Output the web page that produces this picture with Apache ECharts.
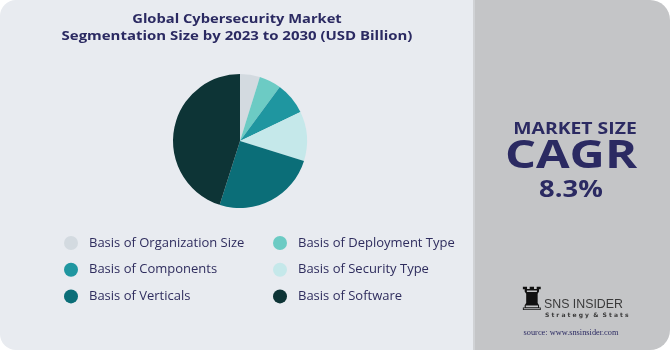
<!DOCTYPE html>
<html><head><meta charset="utf-8">
<script src="https://cdn.jsdelivr.net/npm/echarts@6/dist/echarts.min.js"></script>
<style>html,body{margin:0;padding:0;background:#fff}#c{width:670px;height:350px}</style>
</head><body><div id="c"></div>
<script>
const titleLines = ['Global Cybersecurity Market', 'Segmentation Size by 2023 to 2030 (USD Billion)'];
const categories = ['Basis of Organization Size','Basis of Deployment Type','Basis of Components','Basis of Security Type','Basis of Verticals','Basis of Software'];
const values = [4.8, 5.3, 7.8, 11.9, 25.1, 45.1];
const colors = ['#d3dae0','#6ccbc4','#1f96a0','#c5e8ea','#0b6e78','#0d3436'];
const legendLeft = ['Basis of Organization Size','Basis of Components','Basis of Verticals'];
const legendRight = ['Basis of Deployment Type','Basis of Security Type','Basis of Software'];
const sideTexts = {label:'MARKET SIZE', big:'CAGR', value:'8.3%'};

const navy = '#2b2a62';
const chart = echarts.init(document.getElementById('c'), null, {renderer:'canvas'});
const legendText = {color:'#2f2d5e', fontSize:13, fontFamily:'Open Sans', padding:[0,0,0,6]};
function txt(t, x, y, font, sx, fill){
  return {type:'text', x:x, y:y, scaleX:sx||1, style:{text:t, x:0, y:0, textAlign:'center', textVerticalAlign:'middle', fill:fill||navy, font:font}};
}
chart.setOption({
  animation:false,
  color: colors,
  graphic:[
    {type:'rect', z:-10, shape:{x:0,y:0,width:490,height:350,r:[16,0,0,16]}, style:{fill:'#e8ebf0'}},
    {type:'rect', z:-9, shape:{x:473,y:0,width:197,height:350,r:[0,20,20,0]}, style:{fill:'#c4c5c7'}},
    {type:'rect', z:-8, shape:{x:473,y:0,width:2,height:350}, style:{fill:'#d0d2d5'}},
    txt(titleLines[0], 237, 19, 'bold 13px "Open Sans"', 1.13),
    txt(titleLines[1], 237, 36, 'bold 13px "Open Sans"', 1.15),
    txt(sideTexts.label, 575, 129, 'bold 16px "Open Sans"', 1.21),
    txt(sideTexts.big, 571, 157, 'bold 39px "Open Sans"', 1.25),
    txt(sideTexts.value, 571, 190, 'bold 23px "Open Sans"', 1.19),
    txt('\u265C', 532, 302, '32px "DejaVu Sans"', 1, '#111'),
    {type:'text', x:544, y:304, style:{text:'SNS INSIDER', x:0, y:0, textAlign:'left', textVerticalAlign:'middle', fill:'#3a3a3a', font:'13px "Liberation Sans"'}, scaleX:0.95},
    {type:'text', x:545, y:315, style:{text:'S t r a t e g y  &  S t a t s', x:0, y:0, textAlign:'left', textVerticalAlign:'middle', fill:'#3a3a3a', font:'bold 6px "DejaVu Sans"'}},
    txt('source: www.snsinsider.com', 571, 333, '8px "Liberation Serif"', 1.04, '#2b2a62')
  ],
  legend:[
    {data:legendLeft, orient:'vertical', left:59, top:231, itemWidth:14, itemHeight:14, itemGap:12.7, icon:'circle', textStyle:legendText, selectedMode:false},
    {data:legendRight, orient:'vertical', left:268, top:231, itemWidth:14, itemHeight:14, itemGap:12.7, icon:'circle', textStyle:legendText, selectedMode:false}
  ],
  series:[{
    type:'pie', center:[240,141], radius:[0,67], startAngle:90, clockwise:true,
    label:{show:false}, labelLine:{show:false}, silent:true,
    itemStyle:{borderWidth:0},
    data: categories.map((n,i)=>({name:n, value:values[i], itemStyle:{color:colors[i]}}))
  }]
});
</script></body></html>
